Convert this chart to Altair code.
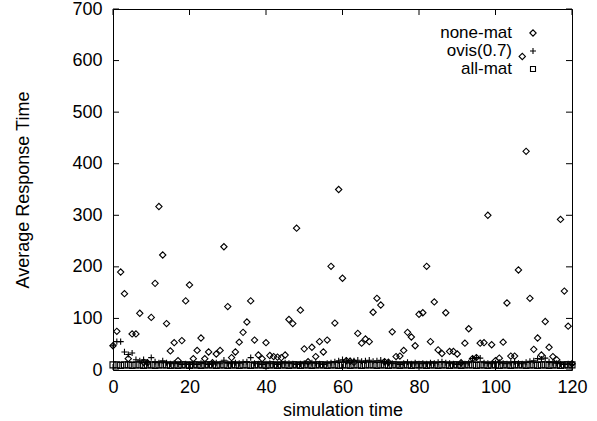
import altair as alt
import pandas as pd

# ---- data ----
times = list(range(121))
series_names = ["none-mat", "ovis(0.7)", "all-mat"]

none_mat = [
    47, 75, 190, 148, 22, 70, 70, 110, 15, 14,
    102, 168, 317, 223, 90, 37, 53, 18, 57, 134,
    165, 22, 38, 62, 22, 35, 14, 31, 38, 239,
    123, 24, 35, 54, 73, 93, 134, 58, 29, 22,
    53, 28, 26, 25, 24, 29, 98, 90, 275, 116,
    41, 16, 44, 26, 55, 35, 58, 201, 91, 350,
    178, 18, 17, 15, 71, 52, 60, 55, 112, 139,
    126, 16, 15, 74, 26, 27, 38, 73, 64, 47,
    108, 111, 201, 55, 132, 39, 32, 111, 36, 36,
    31, 14, 52, 80, 22, 24, 52, 53, 300, 49,
    18, 23, 54, 130, 27, 27, 194, 608, 424, 139,
    40, 62, 29, 94, 44, 26, 20, 292, 153, 85,
    12,
]

ovis = [
    47, 55, 55, 35, 30, 33, 20, 18, 20, 15,
    24, 16, 14, 18, 14, 12, 13, 12, 11, 12,
    11, 12, 11, 13, 12, 11, 12, 14, 12, 19,
    13, 12, 14, 13, 15, 16, 24, 13, 12, 11,
    12, 13, 12, 11, 12, 14, 13, 12, 11, 12,
    13, 12, 14, 13, 12, 11, 13, 14, 16, 18,
    20, 19, 18, 18, 19, 17, 18, 19, 17, 18,
    19, 16, 15, 13, 12, 11, 13, 15, 12, 14,
    12, 13, 12, 14, 13, 15, 16, 14, 13, 12,
    11, 13, 12, 14, 22, 24, 23, 14, 13, 12,
    14, 15, 13, 12, 14, 16, 13, 12, 15, 17,
    18, 22, 21, 23, 16, 14, 13, 12, 11, 12,
    11,
]

all_mat = [
    10, 10, 9, 10, 10, 9, 10, 10, 9, 10,
    10, 9, 10, 10, 10, 9, 10, 9, 10, 10,
    9, 10, 10, 9, 10, 10, 10, 9, 10, 10,
    9, 10, 10, 9, 10, 10, 9, 10, 10, 10,
    9, 10, 10, 9, 10, 10, 9, 10, 10, 9,
    10, 10, 9, 10, 10, 10, 9, 10, 10, 9,
    10, 10, 9, 10, 10, 9, 10, 10, 10, 9,
    10, 10, 9, 10, 10, 9, 10, 10, 9, 10,
    10, 10, 9, 10, 10, 9, 10, 10, 9, 10,
    10, 9, 10, 10, 10, 9, 10, 10, 9, 10,
    10, 9, 10, 10, 9, 10, 10, 10, 9, 10,
    10, 9, 10, 10, 9, 10, 10, 9, 10, 10,
    10,
]

x_ticks = [0, 20, 40, 60, 80, 100, 120]
y_ticks = [0, 100, 200, 300, 400, 500, 600, 700]

# ---- styling / layout ----
W, H = 459, 361
FONT = "Liberation Sans"
FS = 18
LEG_FS = 17
TICK = 6
SHAPES = ["diamond", "M-1,0L1,0M0,-1L0,1", "square"]
SIZES = [40, 36, 25]

rows = []
for name, vals in zip(series_names, [none_mat, ovis, all_mat]):
    for t, v in zip(times, vals):
        rows.append({"t": t, "value": v, "series": name})
df = pd.DataFrame(rows)

xscale = alt.Scale(domain=[0, 120], nice=False, zero=False)
yscale = alt.Scale(domain=[0, 700], nice=False)

xaxis = alt.Axis(title="simulation time", values=x_ticks, labelPadding=8,
                 titleBaseline="middle", titleY=40, labelFlush=False, labelOverlap=False)
yaxis = alt.Axis(title="Average Response Time", values=y_ticks, labelPadding=11,
                 titleBaseline="middle", titleAlign="center", titleX=-90, titleY=H / 2,
                 labelOverlap=False)

points = alt.Chart(df).mark_point(filled=False, strokeWidth=1.1, color="black", opacity=1).encode(
    x=alt.X("t:Q", scale=xscale, axis=xaxis),
    y=alt.Y("value:Q", scale=yscale, axis=yaxis),
    shape=alt.Shape("series:N", scale=alt.Scale(domain=series_names, range=SHAPES), legend=None),
    size=alt.Size("series:N", scale=alt.Scale(domain=series_names, range=SIZES), legend=None),
)

yt = pd.DataFrame({"value": y_ticks})
xt = pd.DataFrame({"t": x_ticks})

ytick_l = alt.Chart(yt).mark_rule(color="black", strokeWidth=1).encode(
    y=alt.Y("value:Q", scale=yscale, axis=yaxis), x=alt.value(0), x2=alt.value(TICK))
ytick_r = alt.Chart(yt).mark_rule(color="black", strokeWidth=1).encode(
    y=alt.Y("value:Q", scale=yscale, axis=yaxis), x=alt.value(W - TICK), x2=alt.value(W))
xtick_b = alt.Chart(xt).mark_rule(color="black", strokeWidth=1).encode(
    x=alt.X("t:Q", scale=xscale, axis=xaxis), y=alt.value(H), y2=alt.value(H - TICK))
xtick_t = alt.Chart(xt).mark_rule(color="black", strokeWidth=1).encode(
    x=alt.X("t:Q", scale=xscale, axis=xaxis), y=alt.value(0), y2=alt.value(TICK))

# gnuplot-style key: label right-aligned, symbol to its right
LEG_TEXT_X, LEG_SYM_X, LEG_Y0, LEG_DY = 399, 420, 24, 18
legend_layers = []
for i, name in enumerate(series_names):
    ld = pd.DataFrame({"label": [name]})
    legend_layers.append(
        alt.Chart(ld).mark_text(align="right", baseline="middle", font=FONT, fontSize=LEG_FS,
                                color="black").encode(
            text="label:N", x=alt.value(LEG_TEXT_X), y=alt.value(LEG_Y0 + LEG_DY * i)))
    legend_layers.append(
        alt.Chart(ld).mark_point(shape=SHAPES[i], size=SIZES[i], filled=False, strokeWidth=1.1,
                                 color="black", opacity=1).encode(
            x=alt.value(LEG_SYM_X), y=alt.value(LEG_Y0 + LEG_DY * i)))

chart = alt.layer(points, ytick_l, ytick_r, xtick_b, xtick_t, *legend_layers).properties(
    width=W, height=H,
    background="white",
    autosize=alt.AutoSizeParams(type="none"),
    padding={"left": 113, "top": 9, "right": 25, "bottom": 51},
).configure_view(
    stroke="black", strokeWidth=1,
).configure_axis(
    labelFont=FONT, labelFontSize=FS, labelColor="black",
    titleFont=FONT, titleFontSize=FS, titleFontWeight="normal", titleColor="black",
    ticks=False, domain=False, grid=False,
)

chart.save("out.html", embed_options={"renderer": "svg", "actions": False})
